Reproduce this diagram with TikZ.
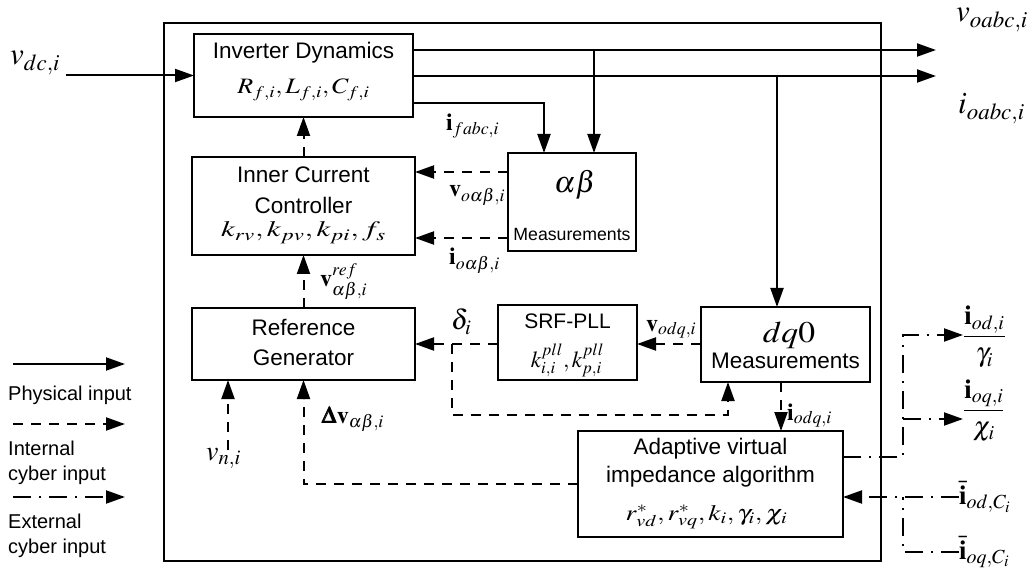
\documentclass[tikz,border=0pt]{standalone}
\usepackage{amsmath}
\usepackage{mathptmx}
\usepackage{bm}
\usepackage{graphicx}
\usepackage[no-math]{fontspec}
\setmainfont{Liberation Sans}
\usetikzlibrary{arrows.meta,calc}

% horizontally widened math for the block parameters
\newcommand{\stretchx}[2][1.3]{\scalebox{#1}[1]{#2}}

\tikzset{
  blk/.style={draw, line width=2pt, inner sep=0pt, outer sep=0pt},
  sans/.style={inner sep=0pt, anchor=base, font=\fontsize{22.5}{27}\selectfont},
  sanssm/.style={inner sep=0pt, anchor=base, font=\fontsize{17.7}{21}\selectfont},
  lgd/.style={inner sep=0pt, anchor=base west, font=\fontsize{20}{24}\selectfont},
  mth/.style={inner sep=0pt, anchor=base, font=\fontsize{22}{26}\selectfont},
  bigmth/.style={inner sep=0pt, anchor=base, font=\fontsize{30}{34}\selectfont},
  lbl/.style={inner sep=0pt, anchor=base west, font=\fontsize{24}{28}\selectfont},
  extlbl/.style={inner sep=0pt, anchor=west, font=\fontsize{27}{31}\selectfont},
  biglbl/.style={inner sep=0pt, anchor=base west, font=\fontsize{31}{36}\selectfont},
  phys/.style={line width=2pt, -{Triangle[length=19pt,width=13pt]}},
  intl/.style={phys, dash pattern=on 10pt off 8pt},
  extl/.style={phys, dash pattern=on 18pt off 8pt on 2pt off 8pt},
}

\begin{document}
\begin{tikzpicture}[x=1pt, y=-1pt]
\fill[white] (0,0) rectangle (1029,572);
\useasboundingbox (0,0) rectangle (1029,572);

% controller boundary
\node[blk, minimum width=717pt, minimum height=538pt] (sys) at (522.5,292) {};

% blocks
\node[blk, minimum width=219pt, minimum height=83pt]  (inv) at (303.5,75.5) {};
\node[blk, minimum width=223pt, minimum height=98pt]  (icc) at (303.5,206) {};
\node[blk, minimum width=128pt, minimum height=98pt]  (ab)  at (572,202) {};
\node[blk, minimum width=223pt, minimum height=72pt]  (rg)  at (303.5,344) {};
\node[blk, minimum width=139pt, minimum height=75pt]  (pll) at (567.5,342.5) {};
\node[blk, minimum width=169pt, minimum height=75pt]  (dq)  at (785.5,344.5) {};
\node[blk, minimum width=265pt, minimum height=106pt] (avi) at (710.5,484) {};

% block texts
\node[sans] (invT) at (303.5,59) {Inverter Dynamics};
\node[mth]  (invP) at (303.5,94) {\stretchx[1.18]{$R_{f,i}, L_{f,i}, C_{f,i}$}};

\node[sans] (iccT1) at (303.5,183) {Inner Current};
\node[sans] (iccT2) at (303.5,214) {Controller};
\node[mth]  (iccP)  at (303.5,237) {\stretchx[1.4]{$k_{rv}, k_{pv}, k_{pi}, f_s$}};

\node[bigmth] (abT) at (575,193) {$\alpha\beta$};
\node[sanssm] (abM) at (572,241) {Measurements};

\node[sans] (rgT1) at (303.5,335) {Reference};
\node[sans] (rgT2) at (303.5,365) {Generator};

\node[inner sep=0pt, anchor=base, font=\fontsize{21}{25}\selectfont] (pllT) at (567.5,329) {SRF-PLL};
\node[inner sep=0pt, anchor=base, font=\fontsize{23}{27}\selectfont] (pllP) at (567.5,367) {$k^{pll}_{i,i}, k^{pll}_{p,i}$};

\node[bigmth] (dqT) at (789,343) {\stretchx[1.12]{$dq0$}};
\node[sans] (dqM) at (785.5,368) {Measurements};

\node[sans] (aviT1) at (710.5,454) {Adaptive virtual};
\node[sans] (aviT2) at (710.5,482) {impedance algorithm};
\node[mth]  (aviP)  at (706.5,520) {\stretchx[1.24]{$r^*_{vd}, r^*_{vq}, k_i, \gamma_i, \chi_i$}};

% physical signals
\node[biglbl] (vdc) at (10,65) {$v_{dc,i}$};
\coordinate (vdcin) at (66,75.5);
\draw[phys] (vdcin) -- (inv.west);

\coordinate (vo) at (936,50);
\coordinate (io) at (936,76);
\draw[phys] (inv.east |- vo) -- (vo);
\draw[phys] (inv.east |- io) -- (io);
\node[biglbl] (voL) at (956,22) {$v_{oabc,i}$};
\node[biglbl] (ioL) at (958,114) {$i_{oabc,i}$};

\coordinate (jf) at (544,103);
\coordinate (jv) at (594,50);
\coordinate (ji) at (777,76);
\draw[phys] (inv.east |- jf) -- (jf) -- (jf |- ab.north);
\draw[phys] (jv) -- (jv |- ab.north);
\draw[phys] (ji) -- (ji |- dq.north);
\node[lbl] (ifL) at (446,131) {$\mathbf{i}_{fabc,i}$};

% internal cyber signals
\draw[intl] (ab.west |- 0,172) -- (icc.east |- 0,172);
\draw[intl] (ab.west |- 0,238) -- (icc.east |- 0,238);
\node[lbl] (voabL) at (449,197) {$\mathbf{v}_{o\alpha\beta,i}$};
\node[lbl] (ioabL) at (449,265) {$\mathbf{i}_{o\alpha\beta,i}$};

\draw[intl] (icc.north) -- (inv.south);
\draw[intl] (rg.north) -- (icc.south);
\node[lbl] (vrefL) at (320,287) {$\mathbf{v}^{ref}_{\alpha\beta,i}$};

\draw[intl] (dq.west |- 0,344) -- (pll.east |- 0,344);
\node[lbl] (vodqL) at (646,331) {$\mathbf{v}_{odq,i}$};
\draw[intl] (pll.west |- 0,344) -- (rg.east |- 0,344);
\node[inner sep=0pt, anchor=base west, font=\fontsize{28}{32}\selectfont] (delL) at (451,330) {$\delta_i$};

\coordinate (jd) at (452,344);
\draw[intl] (jd) -- (jd |- 0,415) -| (dq.south -| 728,0);

\draw[intl] (dq.south -| 781,0) -- (avi.north -| 781,0);
\node[lbl] (iodqL) at (787,420) {$\mathbf{i}_{odq,i}$};

\draw[intl] (avi.west) -| (rg.south);
\node[lbl] (dvL) at (321,423) {$\bm{\Delta}\mathbf{v}_{\alpha\beta,i}$};

\node[inner sep=0pt, anchor=base west, font=\fontsize{28}{32}\selectfont] (vnL) at (206,460) {$v_{n,i}$};
\coordinate (vnin) at (228,450);
\draw[intl] (vnin) -- (vnin |- rg.south);

% external cyber signals
\node[extlbl] (fracD) at (963,337) {$\dfrac{\mathbf{i}_{od,i}}{\gamma_i}$};
\node[extlbl] (fracQ) at (963,411) {$\dfrac{\mathbf{i}_{oq,i}}{\chi_i}$};
\coordinate (jo) at (903,457);
\draw[extl] (avi.east |- jo) -| (903,335) -- (fracD.west |- 0,335);
\draw[extl] (903,419) -- (fracQ.west |- 0,419);

\node[extlbl] (icd) at (959,497) {$\bar{\mathbf{i}}_{od,C_i}$};
\node[extlbl] (icq) at (959,552) {$\bar{\mathbf{i}}_{oq,C_i}$};
\coordinate (jc) at (903,497);
\draw[extl] (icd.west) -- (jc) -- (avi.east |- jc);
\draw[extl, -] (icq.west) -| (jc);

% legend
\coordinate (lp1) at (13,364);  \coordinate (lp2) at (125,364);
\coordinate (li1) at (13,424);  \coordinate (li2) at (125,424);
\coordinate (le1) at (13,497);  \coordinate (le2) at (125,497);
\draw[phys] (lp1) -- (lp2);
\draw[intl] (li1) -- (li2);
\draw[extl] (le1) -- (le2);
\node[lgd] (lgP)  at (8,400) {Physical input};
\node[lgd] (lgI1) at (8,455) {Internal};
\node[lgd] (lgI2) at (8,480) {cyber input};
\node[lgd] (lgE1) at (8,528) {External};
\node[lgd] (lgE2) at (8,553) {cyber input};
\end{tikzpicture}
\end{document}
